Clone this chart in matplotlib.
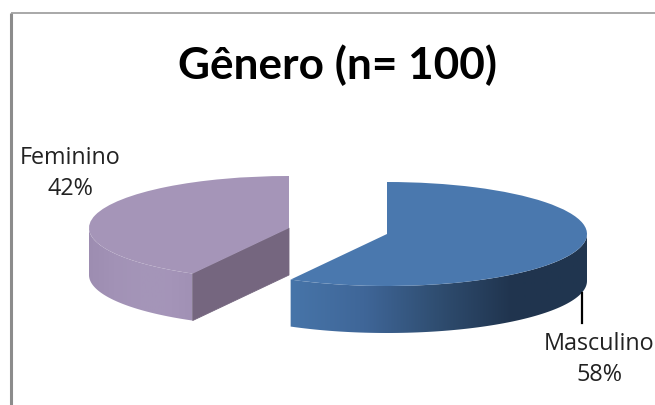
import numpy as np
import matplotlib
matplotlib.use('Agg')
import matplotlib.pyplot as plt
from matplotlib.colors import LinearSegmentedColormap
from matplotlib.patches import Polygon

# Data
categories = ['Masculino', 'Feminino']
values = [58, 42]

title_text = 'Gênero (n= 100)'

W, H = 655, 405
RADIUS = 200
SQUASH = 52 / 200   # ellipse height / width of the tilted pie
DEPTH = 47 / SQUASH


def to_y(py):
    '''Pixel row in the picture to data y in the squashed axes'''
    return (H - py) / SQUASH


def rim(center, phi):
    '''Points on the pie edge, phi is degrees clockwise from the top'''
    phi = np.radians(phi)
    return center[0] + RADIUS * np.sin(phi), center[1] + RADIUS * np.cos(phi)


def wall(ax, center, phi_from, phi_to, colors, x_range):
    '''Outer side of a slice, filled with a horizontal gradient'''
    phi = np.linspace(phi_from, phi_to, 80)
    x, y = rim(center, phi)
    pts = np.r_[np.c_[x, y], np.c_[x[::-1], y[::-1] - DEPTH]]
    cmap = LinearSegmentedColormap.from_list('wall', colors)
    im = ax.imshow(np.linspace(0, 1, 256)[None, :], cmap=cmap, aspect='auto',
                   extent=(x_range[0], x_range[1], 0, H / SQUASH), zorder=2)
    clip = Polygon(pts, closed=True, transform=ax.transData)
    im.set_clip_path(clip)


fig = plt.figure(figsize=(W / 100, H / 100), dpi=100)
ax = fig.add_axes([0, 0, 1, 1])

# where the two slices meet, degrees clockwise from the top
split = 360 * values[0] / sum(values)

center_m = (387, to_y(234))
center_f = (289, to_y(228))

# Feminino
wall(ax, center_f, split, 270, ['#a191b5', '#a595b9', '#a495b8', '#a292b6', '#9d8db1'], (192, 88))
cut_x, cut_y = rim(center_f, split)
ax.add_patch(Polygon([center_f, (cut_x, cut_y), (cut_x, cut_y - DEPTH),
                      (center_f[0], center_f[1] - DEPTH)],
                     closed=True, fc='#75667f', ec='#75667f', lw=0.6, zorder=3))
wedges, _ = ax.pie(values, startangle=90, counterclock=False, radius=RADIUS,
                   center=center_f, colors=['none', '#a595b8'])
wedges[0].set_visible(False)
wedges[1].set_zorder(4)

# Masculino
wall(ax, center_m, 90, split, ['#203650', '#20344e', '#2f4d70', '#3f6698', '#4775a9'], (587, 290))
wedges, _ = ax.pie(values, startangle=90, counterclock=False, radius=RADIUS,
                   center=center_m, colors=['#4a78ae', 'none'])
wedges[1].set_visible(False)
wedges[0].set_zorder(4)

# pie() forces equal aspect and its own limits
ax.set_aspect('auto')
ax.set_xlim(0, W)
ax.set_ylim(0, H / SQUASH)
ax.axis('off')

# Leader line
ax.plot([582, 582], [to_y(293), to_y(323)], color='black', lw=1.6, zorder=5)

# Chart border, only left and top show
ax.plot([11, 11], [to_y(13), to_y(405)], color='#8c8c8c', lw=2.2, zorder=1, solid_capstyle='butt')
ax.plot([11, 655], [to_y(13), to_y(13)], color='#9a9a9a', lw=1.2, zorder=1, solid_capstyle='butt')

# Text
ax.text(338, to_y(65), title_text, family='Lato', weight='bold', fontsize=31.8,
        ha='center', va='center', color='black')
ax.text(70.5, to_y(173.5), f'{categories[1]}\n{values[1]}%', family='Open Sans', fontsize=16.8,
        ha='center', va='center', linespacing=1.4, color='#222222')
ax.text(599.5, to_y(359.5), f'{categories[0]}\n{values[0]}%', family='Open Sans', fontsize=16.8,
        ha='center', va='center', linespacing=1.4, color='#222222')

fig.savefig('out.png', dpi=100)
